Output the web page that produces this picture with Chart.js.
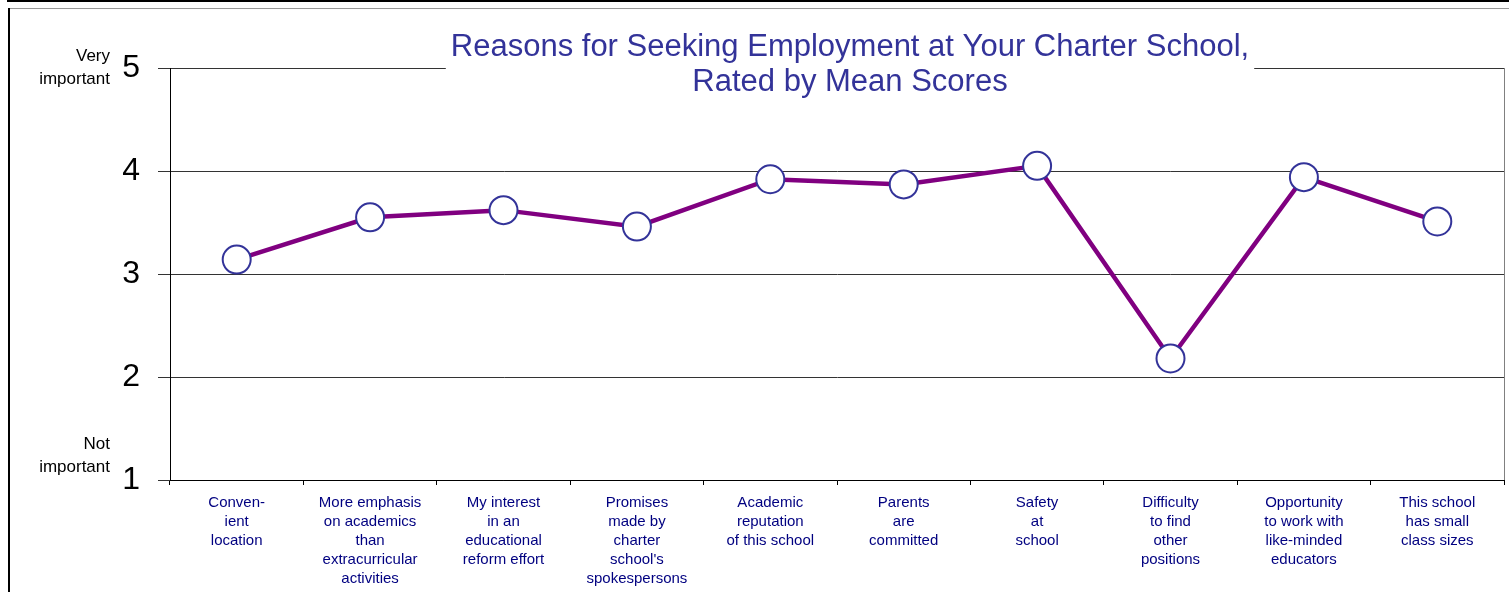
<!DOCTYPE html>
<html>
<head>
<meta charset="utf-8">
<title>Reasons for Seeking Employment</title>
<script src="https://cdn.jsdelivr.net/npm/chart.js@4/dist/chart.umd.min.js"></script>
<style>
  html, body { margin: 0; padding: 0; background: #fff; overflow: hidden; }
  #wrap { position: relative; width: 1509px; height: 592px; }
  canvas { display: block; }
</style>
</head>
<body>
<div id="wrap"><canvas id="meanChart" width="1509" height="592"></canvas></div>
<script>
const reasons = [
    ["Conven-", "ient", "location"],
    ["More emphasis", "on academics", "than", "extracurricular", "activities"],
    ["My interest", "in an", "educational", "reform effort"],
    ["Promises", "made by", "charter", "school's", "spokespersons"],
    ["Academic", "reputation", "of this school"],
    ["Parents", "are", "committed"],
    ["Safety", "at", "school"],
    ["Difficulty", "to find", "other", "positions"],
    ["Opportunity", "to work with", "like-minded", "educators"],
    ["This school", "has small", "class sizes"]
];
const meanScores = [3.14, 3.55, 3.62, 3.46, 3.92, 3.87, 4.05, 2.18, 3.94, 3.51];
const titleLines = ["Reasons for Seeking Employment at Your Charter School,", "Rated by Mean Scores"];
const scaleEnds = { 5: ["Very", "important"], 1: ["Not", "important"] };

const FONT = "'Liberation Sans', Arial, sans-serif";

// frame, title box, right border and end labels
const decorations = {
    id: "decorations",
    afterDraw(chart) {
        const ctx = chart.ctx;
        const area = chart.chartArea;
        const y = chart.scales.y;
        ctx.save();

        // outer frame
        ctx.fillStyle = "#000";
        ctx.fillRect(7, 0, 1502, 2);
        ctx.fillRect(8, 8, 2, 584);
        ctx.fillStyle = "#999";
        ctx.fillRect(10, 8, 1499, 1);

        // right border of the plot
        ctx.strokeStyle = "#808080";
        ctx.lineWidth = 1;
        ctx.beginPath();
        ctx.moveTo(area.right + 0.5, area.top);
        ctx.lineTo(area.right + 0.5, area.bottom);
        ctx.stroke();

        // title on a white box over the top line
        ctx.font = "31px " + FONT;
        const w = Math.max(...titleLines.map(t => ctx.measureText(t).width));
        const cx = 850;
        ctx.fillStyle = "#fff";
        ctx.fillRect(cx - w / 2 - 5, 28, w + 10, 72);
        ctx.fillStyle = "#333399";
        ctx.textAlign = "center";
        ctx.textBaseline = "middle";
        ctx.fillText(titleLines[0], cx, 47);
        ctx.fillText(titleLines[1], cx, 82);

        // "Very important" / "Not important" beside the end ticks
        ctx.font = "17px " + FONT;
        ctx.fillStyle = "#000";
        ctx.textAlign = "right";
        Object.keys(scaleEnds).forEach(v => {
            const py = y.getPixelForValue(Number(v));
            const lines = scaleEnds[v];
            const base = Number(v) === 5 ? py - 12 : py - 36;
            lines.forEach((t, i) => ctx.fillText(t, 110, base + i * 23));
        });
        ctx.restore();
    }
};

new Chart(document.getElementById("meanChart").getContext("2d"), {
    type: "line",
    data: {
        labels: reasons,
        datasets: [{
            data: meanScores,
            borderColor: "#800080",
            borderWidth: 4.5,
            tension: 0,
            pointRadius: 14,
            pointHoverRadius: 14,
            pointBackgroundColor: "#fff",
            pointBorderColor: "#333399",
            pointBorderWidth: 2
        }]
    },
    options: {
        responsive: false,
        animation: false,
        layout: { autoPadding: false, padding: { top: 68, right: 5, left: 0, bottom: 0 } },
        plugins: {
            legend: { display: false },
            title: { display: false },
            tooltip: { enabled: false }
        },
        scales: {
            x: {
                offset: true,
                afterFit: s => {
                    s.height = 112;
                    s.paddingLeft = 0;
                    s.paddingRight = 0;
                },
                grid: {
                    offset: true,
                    drawOnChartArea: false,
                    tickLength: 5,
                    color: "#000"
                },
                border: { color: "#000", width: 1 },
                ticks: {
                    color: "#000080",
                    font: { family: FONT, size: 15, lineHeight: 1.27 },
                    padding: 8,
                    maxRotation: 0,
                    autoSkip: false
                }
            },
            y: {
                min: 1,
                max: 5,
                afterFit: s => { s.width = 170; },
                grid: { color: "#333", tickLength: 12, lineWidth: 1 },
                border: { color: "#000", width: 1 },
                ticks: {
                    stepSize: 1,
                    color: "#000",
                    font: { family: FONT, size: 32 },
                    padding: 18
                }
            }
        }
    },
    plugins: [decorations]
});
</script>
</body>
</html>
